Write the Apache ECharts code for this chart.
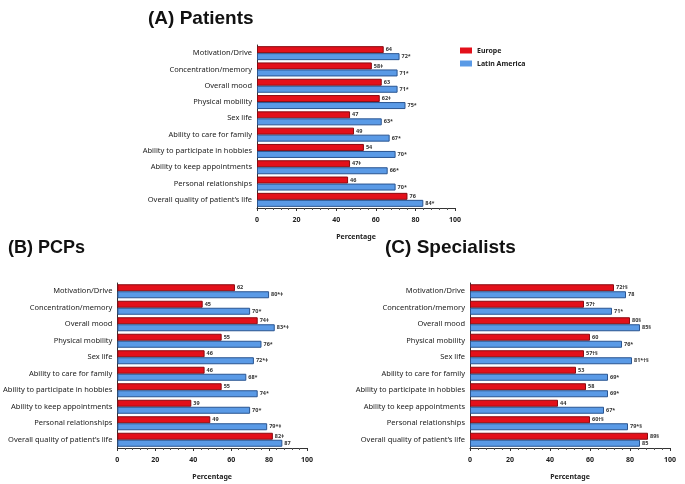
<!DOCTYPE html>
<html><head><meta charset="utf-8">
<script src="https://cdn.jsdelivr.net/npm/echarts@6/dist/echarts.min.js"></script>
<style>html,body{margin:0;padding:0;background:#fff}#c{width:685px;height:484px}</style>
</head><body><div id="c"></div>
<script>
const categories = ["Motivation/Drive","Concentration/memory","Overall mood","Physical mobility","Sex life","Ability to care for family","Ability to participate in hobbies","Ability to keep appointments","Personal relationships","Overall quality of patient\u2019s life"];
const xTicks = [0,20,40,60,80,100];

const patientsEurope = [64,58,63,62,47,49,54,47,46,76];
const patientsEuropeLbl = ["64","58\u2021","63","62\u2021","47","49","54","47\u2021","46","76"];
const patientsLatAm = [72,71,71,75,63,67,70,66,70,84];
const patientsLatAmLbl = ["72*","71*","71*","75*","63*","67*","70*","66*","70*","84*"];

const pcpEurope = [62,45,74,55,46,46,55,39,49,82];
const pcpEuropeLbl = ["62","45","74\u2021","55","46","46","55","39","49","82\u2021"];
const pcpLatAm = [80,70,83,76,72,68,74,70,79,87];
const pcpLatAmLbl = ["80*\u2021","70*","83*\u2021","76*","72*\u2021","68*","74*","70*","79*\u2021","87"];

const specEurope = [72,57,80,60,57,53,58,44,60,89];
const specEuropeLbl = ["72\u2020\u00a7","57\u2020","80\u00a7","60","57\u2020\u00a7","53","58","44","60\u2020\u00a7","89\u00a7"];
const specLatAm = [78,71,85,76,81,69,69,67,79,85];
const specLatAmLbl = ["78","71*","85\u00a7","76*","81*\u2020\u00a7","69*","69*","67*","79*\u00a7","85"];

const chart = echarts.init(document.getElementById('c'), null, {renderer:'canvas'});
const FONT = '"Noto Sans", "Open Sans", sans-serif';
const TFONT = '"Liberation Sans", Arial, sans-serif';
const grids = [
  {left:257, width:198, top:45, height:163},
  {left:107, width:200, top:283, height:165},
  {left:470, width:200, top:283, height:165}
];
function xAxis(i){
  return {gridIndex:i, type:'value', min:0, max:100, interval:20,
    name:'Percentage', nameLocation:'middle', nameGap:25,
    nameTextStyle:{fontFamily:FONT, fontSize:7, fontWeight:'bold', color:'#222'},
    axisLine:{show:true, lineStyle:{color:'#333', width:1}},
    axisTick:{show:true, length:3, lineStyle:{color:'#333'}},
    minorTick:{show:true, splitNumber:5, length:2, lineStyle:{color:'#555'}},
    splitLine:{show:false},
    axisLabel:{fontFamily:FONT, fontSize:7, fontWeight:'bold', color:'#222', margin:8,
      formatter:function(v){return xTicks.indexOf(v)>=0? String(v):'';}}
  };
}
function yAxis(i){
  return {gridIndex:i, type:'category', data:categories, inverse:true,
    axisLine:{show:true, lineStyle:{color:'#333', width:1}},
    axisTick:{show:false},
    axisLabel:{fontFamily:FONT, fontSize:7.5, color:'#222', margin:5}
  };
}
function ser(name, i, data, lbls, color, border){
  return {name:name, type:'bar', xAxisIndex:i, yAxisIndex:i, data:data,
    barWidth:7, barGap:'0%',
    itemStyle:{color:color, borderColor:border, borderWidth:1},
    label:{show:true, position:'right', distance:2, fontFamily:FONT, fontSize:5.5, fontWeight:'bold', color:'#333',
      formatter:function(p){return lbls[p.dataIndex];}},
    animation:false
  };
}
const RED='#e3101a', RB='#8a0a10', BLUE='#5a9ae6', BB='#2a5591';
chart.setOption({
  animation:false,
  title:[
    {text:'(A) Patients', left:143, top:4, textStyle:{fontFamily:TFONT, fontSize:19, fontWeight:'bold', color:'#111'}},
    {text:'(B) PCPs', left:3, top:234, textStyle:{fontFamily:TFONT, fontSize:18, fontWeight:'bold', color:'#111'}},
    {text:'(C) Specialists', left:380, top:233, textStyle:{fontFamily:TFONT, fontSize:19, fontWeight:'bold', color:'#111'}}
  ],
  legend:{data:['Europe','Latin America'], orient:'vertical', left:460, top:47, padding:0, icon:'rect', itemWidth:12, itemHeight:6, itemGap:6,
    itemStyle:{borderWidth:0},
    textStyle:{fontFamily:FONT, fontSize:7, fontWeight:'bold', color:'#222'}},
  grid:grids,
  xAxis:[xAxis(0),xAxis(1),xAxis(2)],
  yAxis:[yAxis(0),yAxis(1),yAxis(2)],
  series:[
    ser('Europe',0,patientsEurope,patientsEuropeLbl,RED,RB),
    ser('Latin America',0,patientsLatAm,patientsLatAmLbl,BLUE,BB),
    ser('Europe',1,pcpEurope,pcpEuropeLbl,RED,RB),
    ser('Latin America',1,pcpLatAm,pcpLatAmLbl,BLUE,BB),
    ser('Europe',2,specEurope,specEuropeLbl,RED,RB),
    ser('Latin America',2,specLatAm,specLatAmLbl,BLUE,BB)
  ]
});
</script></body></html>
